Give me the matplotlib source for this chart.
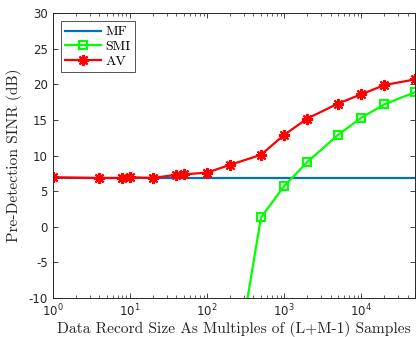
import numpy as np
import matplotlib.pyplot as plt

plt.rcParams.update({
    "axes.unicode_minus": False,
    "font.size": 8.5,
})

# data
mf_x = [1, 4, 8, 10, 20, 40, 50, 100, 200, 500, 1000, 2000, 5000, 10000, 20000, 50000]
mf_y = [6.9] * len(mf_x)

smi_x = [200, 500, 1000, 2000, 5000, 10000, 20000, 50000]
smi_y = [-24.6, 1.3, 5.7, 9.1, 12.9, 15.3, 17.2, 18.9]

av_x = [1, 4, 8, 10, 20, 40, 50, 100, 200, 500, 1000, 2000, 5000, 10000, 20000, 50000]
av_y = [6.95, 6.85, 6.85, 6.95, 6.85, 7.3, 7.35, 7.6, 8.7, 10.1, 12.9, 15.2, 17.3, 18.6, 19.9, 20.7]

xlabel = "Data Record Size As Multiples of (L+M-1) Samples"
ylabel = "Pre-Detection SINR (dB)"

fig = plt.figure(figsize=(4.16, 3.37), dpi=100)
ax = fig.add_axes([0.127, 0.116, 0.871, 0.845])

ax.plot(mf_x, mf_y, color=(0, 0.447, 0.741), lw=1.6, label="MF")
ax.plot(smi_x, smi_y, color=(0, 1, 0), lw=1.6, marker="s", ms=5.5, mfc="none",
        mew=1.5, label="SMI")
ax.plot(av_x, av_y, color=(1, 0, 0), lw=1.6, marker=(8, 2, 0), ms=8,
        mew=1.5, label="AV")

ax.set_xscale("log")
ax.set_xlim(1, 5e4)
ax.set_ylim(-10, 30)
ax.set_yticks(np.arange(-10, 31, 5))

ax.tick_params(which="both", direction="in", top=True, right=True, colors="0.15",
               labelcolor="0.15")
ax.tick_params(which="major", length=3.5, width=0.6)
ax.tick_params(which="minor", length=2, width=0.5)
for s in ax.spines.values():
    s.set_color("0.15")
    s.set_linewidth(0.7)

ax.set_xlabel(xlabel, fontname="cmr10", fontsize=11.2, color="0.15", labelpad=1)
ax.set_ylabel(ylabel, fontname="cmr10", fontsize=11.2, color="0.15", labelpad=5)

leg = ax.legend(loc="upper left", prop={"family": "cmr10", "size": 10},
                fancybox=False, edgecolor="0.15", handlelength=2.6,
                borderaxespad=0.6, borderpad=0.3, labelspacing=0.15,
                handletextpad=0.3)
leg.get_frame().set_linewidth(0.7)

fig.savefig("out.png", dpi=100)
